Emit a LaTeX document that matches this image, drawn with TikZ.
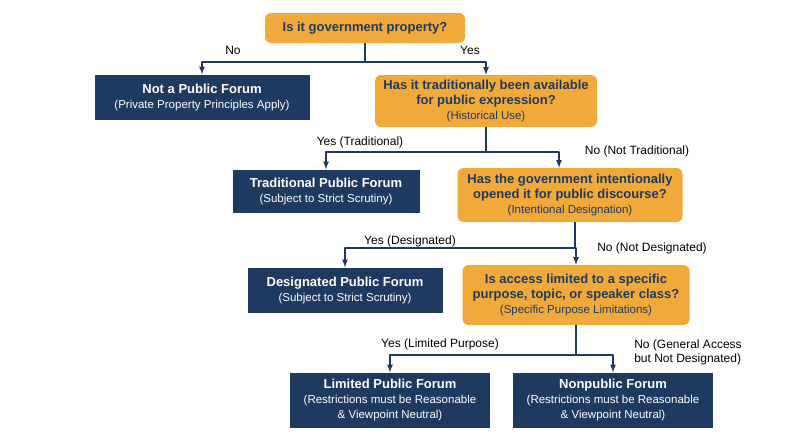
\documentclass[tikz,border=0pt]{standalone}
\usepackage{fontspec}
\setmainfont{Liberation Sans}
\usetikzlibrary{arrows,positioning,calc}
\definecolor{qorange}{HTML}{F1A93A}
\definecolor{fnavy}{HTML}{1F3A60}
\tikzset{
 quest/.style={fill=qorange,rounded corners=6pt,align=center,text=fnavy,font=\fontsize{13}{15}\selectfont,inner sep=3pt},
 forum/.style={fill=fnavy,align=center,text=white,font=\fontsize{13}{15}\selectfont,inner sep=3pt},
 link/.style={fnavy,line width=1.6pt},
 arr/.style={link,-latex},
 lab/.style={font=\fontsize{12}{14}\selectfont,text=black,align=center}
}
\newcommand{\sub}[1]{{\fontsize{11.5}{13}\selectfont #1}}
\begin{document}
\begin{tikzpicture}[x=1pt,y=-1pt,line join=round]
\useasboundingbox (0,0) rectangle (800,447);
% questions
\node[quest,minimum width=200pt,minimum height=30pt] (Q1) at (365,28) {\textbf{Is it government property?}};
\node[quest,minimum width=222pt,minimum height=52pt] (Q2) at (486,101) {\textbf{Has it traditionally been available}\\\textbf{for public expression?}\\\sub{(Historical Use)}};
\node[quest,minimum width=225pt,minimum height=54pt] (Q3) at (570,195) {\textbf{Has the government intentionally}\\\textbf{opened it for public discourse?}\\\sub{(Intentional Designation)}};
\node[quest,minimum width=227pt,minimum height=60pt] (Q4) at (576,295) {\textbf{Is access limited to a specific}\\\textbf{purpose, topic, or speaker class?}\\\sub{(Specific Purpose Limitations)}};
% forums
\node[forum,minimum width=215pt,minimum height=45pt] (F1) at (202,97) {\textbf{Not a Public Forum}\\\sub{(Private Property Principles Apply)}};
\node[forum,minimum width=187pt,minimum height=43pt] (F2) at (326,191) {\textbf{Traditional Public Forum}\\\sub{(Subject to Strict Scrutiny)}};
\node[forum,minimum width=195pt,minimum height=45pt] (F3) at (345,290) {\textbf{Designated Public Forum}\\\sub{(Subject to Strict Scrutiny)}};
\node[forum,minimum width=200pt,minimum height=55pt] (F4) at (390,400) {\textbf{Limited Public Forum}\\\sub{(Restrictions must be Reasonable}\\\sub{\& Viewpoint Neutral)}};
\node[forum,minimum width=200pt,minimum height=55pt] (F5) at (613,400) {\textbf{Nonpublic Forum}\\\sub{(Restrictions must be Reasonable}\\\sub{\& Viewpoint Neutral)}};
% connectors
\draw[link] (Q1.south) -- ++(0,19) coordinate (s1);
\draw[arr] (s1) -| (F1.north);
\draw[arr] (s1) -| (Q2.north);
\draw[link] (Q2.south) -- ++(0,25) coordinate (s2);
\draw[arr] (s2) -| (F2.north);
\draw[arr] (s2) -| ([xshift=-11pt]Q3.north);
\draw[link] ([xshift=5pt]Q3.south) -- ++(0,26) coordinate (s3);
\draw[arr] (s3) -| (F3.north);
\draw[arr] (s3) -| (Q4.north);
\draw[link] (Q4.south) -- ++(0,30) coordinate (s4);
\draw[arr] (s4) -| (F4.north);
\draw[arr] (s4) -| (F5.north);
% labels
\node[lab] (l1) at (233,50) {No};
\node[lab] (l2) at (470,50) {Yes};
\node[lab] (l3) at (360,142) {Yes (Traditional)};
\node[lab] (l4) at (637,151) {No (Not Traditional)};
\node[lab] (l5) at (410,241) {Yes (Designated)};
\node[lab] (l6) at (652,248) {No (Not Designated)};
\node[lab] (l7) at (440,344) {Yes (Limited Purpose)};
\node[lab,align=left] (l8) at (688,352) {No (General Access\\ but Not Designated)};
\end{tikzpicture}
\end{document}
